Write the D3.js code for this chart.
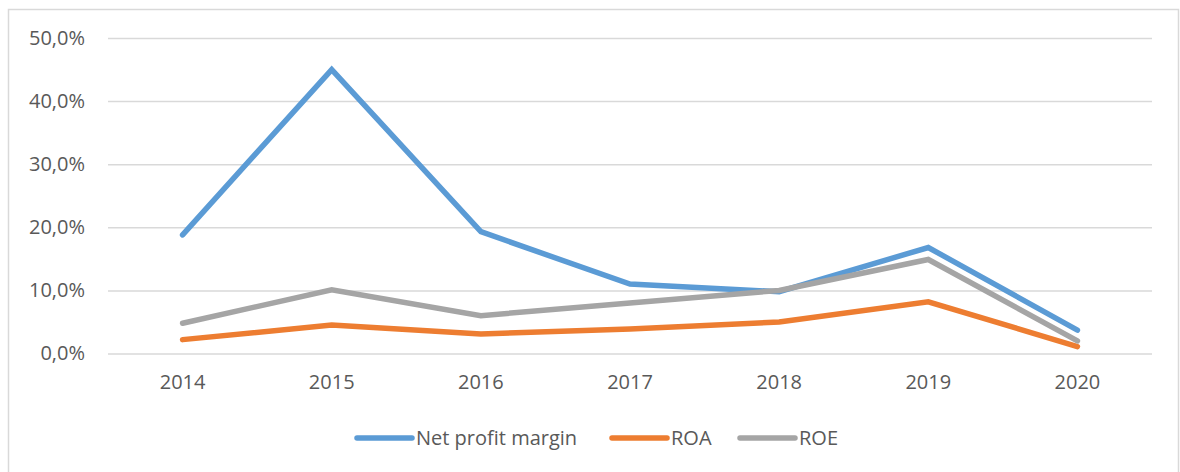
<!DOCTYPE html>
<html>
<head>
<meta charset="utf-8">
<script src="https://cdn.jsdelivr.net/npm/d3@7"></script>
<style>
  body { margin: 0; background: #fff; }
  text { font-family: "Open Sans", "Noto Sans", sans-serif; fill: #595959; }
</style>
</head>
<body>
<script>
var years = ["2014", "2015", "2016", "2017", "2018", "2019", "2020"];
var netProfitMargin = [18.8, 45.0, 19.3, 11.0, 9.8, 16.8, 3.7];
var roa = [2.2, 4.5, 3.1, 3.9, 5.0, 8.2, 1.1];
var roe = [4.8, 10.1, 6.0, 8.0, 10.0, 14.9, 2.0];
var yTicks = [0, 10, 20, 30, 40, 50];
var seriesNames = ["Net profit margin", "ROA", "ROE"];
var seriesColors = ["#5B9BD5", "#ED7D31", "#A5A5A5"];

var svg = d3.select("body")
    .append("svg")
    .attr("width", 1180)
    .attr("height", 472)
    .style("display", "block");

// chart frame
svg.append("rect")
    .attr("x", 8.5)
    .attr("y", 9.5)
    .attr("width", 1170)
    .attr("height", 480)
    .attr("fill", "none")
    .attr("stroke", "#d9d9d9")
    .attr("stroke-width", 1.5);

var plot = {left: 108, right: 1152, top: 38, bottom: 353.5};

var x = d3.scaleBand()
    .domain(years)
    .range([plot.left, plot.right]);

var y = d3.scaleLinear()
    .domain([0, 50])
    .range([plot.bottom, plot.top]);

var fmt = function(d) { return d3.format(".1f")(d).replace(".", ",") + "%"; };

var yAxis = d3.axisLeft(y)
    .tickValues(yTicks)
    .tickSize(-(plot.right - plot.left))
    .tickPadding(23)
    .tickFormat(fmt);

var gy = svg.append("g")
    .attr("transform", "translate(" + plot.left + ",0)")
    .call(yAxis);
gy.select(".domain").remove();
gy.selectAll(".tick line").attr("stroke", "#d9d9d9").attr("stroke-width", 1.5);
gy.selectAll(".tick text")
    .style("font-size", "20px")
    .attr("fill", "#595959");

var xAxis = d3.axisBottom(x).tickSize(0).tickPadding(21);
var gx = svg.append("g")
    .attr("transform", "translate(0," + plot.bottom + ")")
    .call(xAxis);
gx.select(".domain").remove();
gx.selectAll(".tick text")
    .style("font-size", "20px")
    .attr("fill", "#595959");

var allSeries = [netProfitMargin, roa, roe];

var line = d3.line()
    .x(function(d, i) { return x(years[i]) + x.bandwidth() / 2; })
    .y(function(d) { return y(d); });

allSeries.forEach(function(vals, k) {
    svg.append("path")
        .datum(vals)
        .attr("fill", "none")
        .attr("stroke", seriesColors[k])
        .attr("stroke-width", 5.5)
        .attr("stroke-linejoin", "miter")
        .attr("stroke-linecap", "round")
        .attr("d", line);
});

// legend
var legendX = [357, 612, 740];
var legend = svg.append("g");
seriesNames.forEach(function(name, k) {
    legend.append("line")
        .attr("x1", legendX[k])
        .attr("x2", legendX[k] + 55)
        .attr("y1", 438)
        .attr("y2", 438)
        .attr("stroke", seriesColors[k])
        .attr("stroke-width", 5.5)
        .attr("stroke-linecap", "round");
    legend.append("text")
        .attr("x", legendX[k] + 59)
        .attr("y", 438)
        .attr("dy", "0.35em")
        .style("font-size", "20px")
        .text(name);
});
</script>
</body>
</html>
